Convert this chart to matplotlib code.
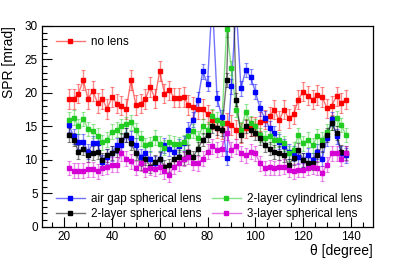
import numpy as np
import matplotlib
matplotlib.use('Agg')
import matplotlib.pyplot as plt
from matplotlib.lines import Line2D
from matplotlib.ticker import MultipleLocator

plt.rcParams['font.family'] = ['Liberation Sans', 'DejaVu Sans']

# polar angle bins [degree]
theta = np.arange(22, 139, 2)

# SPR [mrad] per configuration
no_lens = [19.1, 19.1, 19.9, 21.9, 19.1, 20.3, 18.5, 19.1, 17.6, 19.4,
           18.4, 18.1, 17.6, 21.9, 18.2, 18.4, 19.1, 20.9, 19.2, 23.3,
           19.9, 20.4, 19.3, 19.3, 19.4, 18.2, 17.9, 17.6, 17.6, 16.8,
           16.0, 14.7, 14.5, 15.5, 15.2, 14.5, 14.0, 14.7, 15.0, 15.0,
           15.7, 16.0, 16.5, 17.5, 15.9, 17.5, 16.2, 16.8, 19.0, 20.2,
           19.6, 19.0, 19.7, 19.4, 17.7, 18.1, 19.5, 18.5, 19.0]
air_gap = [15.2, 13.5, 12.7, 12.7, 11.2, 12.5, 12.5, 9.7, 10.5, 11.0,
           12.2, 12.2, 13.7, 13.2, 12.2, 10.5, 11.0, 10.2, 9.5, 10.2,
           12.2, 11.7, 11.2, 12.0, 12.5, 14.5, 16.0, 19.0, 23.2, 21.4,
           34.0, 19.2, 16.4, 10.3, 21.0, 33.0, 20.7, 23.4, 22.4, 20.2,
           17.7, 16.2, 14.7, 14.0, 12.7, 12.0, 11.2, 11.0, 10.5, 10.0,
           10.7, 10.0, 11.2, 10.2, 13.2, 16.1, 13.5, 11.0, 10.7]
cyl_2layer = [16.0, 16.3, 15.0, 16.1, 14.6, 14.3, 13.6, 12.6, 13.0, 14.2,
              14.5, 15.0, 15.3, 15.6, 14.4, 13.2, 12.2, 12.3, 13.3, 12.4,
              11.8, 12.6, 12.4, 12.3, 12.6, 13.5, 14.3, 13.2, 15.0, 14.5,
              16.5, 16.0, 15.5, 29.5, 23.7, 17.5, 14.5, 17.2, 15.5, 15.0,
              13.7, 13.2, 13.5, 13.0, 13.0, 12.5, 11.0, 11.5, 13.7, 12.5,
              13.0, 12.2, 13.5, 13.0, 14.2, 15.5, 16.2, 15.2, 13.7]
sph_2layer = [13.7, 13.0, 11.2, 11.7, 10.7, 11.0, 11.2, 10.0, 10.7, 11.0,
              11.5, 13.0, 13.7, 12.5, 11.0, 9.5, 10.2, 9.0, 9.7, 10.2,
              9.0, 9.2, 10.2, 10.5, 10.2, 11.2, 10.4, 11.7, 13.0, 13.7,
              15.0, 14.7, 14.5, 21.9, 45.0, 19.0, 13.7, 15.0, 14.5, 14.0,
              13.2, 12.2, 11.7, 11.2, 11.0, 10.7, 9.2, 10.3, 11.5, 10.0,
              9.5, 9.5, 10.7, 12.2, 13.7, 15.5, 14.0, 11.2, 11.0]
sph_3layer = [8.8, 8.4, 8.4, 8.4, 8.6, 8.6, 8.3, 8.8, 9.0, 9.3,
              9.3, 11.0, 10.2, 9.8, 8.8, 9.5, 8.5, 8.8, 8.7, 9.0,
              8.3, 7.8, 9.0, 9.5, 10.2, 10.5, 9.6, 9.5, 10.2, 11.2,
              12.0, 11.5, 11.7, 14.0, 11.5, 12.0, 11.0, 10.7, 11.2, 11.0,
              9.5, 8.8, 8.9, 8.8, 8.9, 9.0, 8.5, 8.3, 8.5, 8.5,
              8.8, 9.0, 8.8, 8.0, 9.3, 11.0, 11.0, 10.2, 11.0]

# typical error bar half-length per configuration
errors = [1.45, 1.1, 1.1, 1.0, 1.1]

labels = ['no lens', 'air gap spherical lens', '2-layer cylindrical lens',
          '2-layer spherical lens', '3-layer spherical lens']
colors = ['#ff0000', '#0000ff', '#22cc22', '#000000', '#d400d4']
series = [no_lens, air_gap, cyl_2layer, sph_2layer, sph_3layer]


def faded(c, a=0.45):
    rgba = list(matplotlib.colors.to_rgba(c))
    rgba[3] = a
    return tuple(rgba)


fig = plt.figure(figsize=(4.15, 2.59), dpi=100)
ax = fig.add_axes([0.101, 0.124, 0.798, 0.776])

handles = []
for vals, err, lab, col in zip(series, errors, labels, colors):
    ax.plot(theta, vals, '-', color=faded(col, 0.55), lw=1.0)
    ax.errorbar(theta, vals, yerr=err, fmt='s', ms=2.6, mfc=col, mec=col,
                ecolor=faded(col, 0.45), elinewidth=1.0, capsize=1.3, capthick=0.8)
    handles.append(Line2D([], [], color=faded(col, 0.55), lw=1.0, marker='s',
                          ms=2.6, mfc=col, mec=col))

ax.set_xlim(10.7, 149.3)
ax.set_ylim(0, 30)
ax.xaxis.set_major_locator(MultipleLocator(20))
ax.xaxis.set_minor_locator(MultipleLocator(5))
ax.yaxis.set_major_locator(MultipleLocator(5))
ax.yaxis.set_minor_locator(MultipleLocator(1))
ax.tick_params(which='both', direction='in', top=False, right=False, labelsize=8.5)
ax.tick_params(which='major', length=7, width=0.8)
ax.tick_params(which='minor', length=3.5, width=0.8)
ax.tick_params(axis='x', pad=3)
ax.tick_params(axis='y', pad=3)
for s in ax.spines.values():
    s.set_linewidth(0.9)

ax.set_xlabel('θ [degree]', fontsize=10, loc='right', labelpad=1)
ax.set_ylabel('SPR [mrad]', fontsize=10, loc='top', labelpad=6)

leg1 = ax.legend([handles[0]], [labels[0]], loc='upper left', frameon=False,
                 fontsize=8.4, handlelength=2.5, handletextpad=0.5,
                 bbox_to_anchor=(0.01, 1.0), borderaxespad=0.5)
ax.add_artist(leg1)
ax.legend([handles[1], handles[3], handles[2], handles[4]],
          [labels[1], labels[3], labels[2], labels[4]],
          ncol=2, loc='lower left', frameon=False, fontsize=8.4,
          handlelength=2.5, handletextpad=0.5, columnspacing=0.9,
          labelspacing=0.3, bbox_to_anchor=(0.01, -0.02))

fig.savefig('out.png', dpi=100)
